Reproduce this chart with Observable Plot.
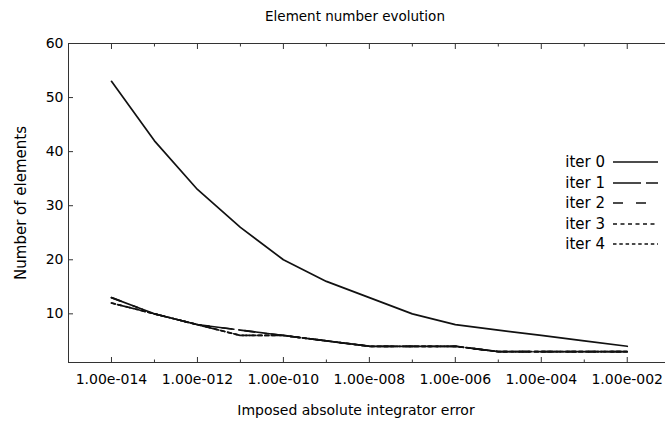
<!DOCTYPE html>
<html><head><meta charset="utf-8">
<script src="https://cdn.jsdelivr.net/npm/d3@7"></script>
<script src="https://cdn.jsdelivr.net/npm/@observablehq/plot@0.6"></script>
<style>
body{margin:0;background:#fff;font-family:"DejaVu Sans",sans-serif;color:#000}
#wrap{position:relative;width:665px;height:421px;overflow:hidden;background:#fff}
#chart{position:absolute;left:0;top:0}
.t{position:absolute;white-space:nowrap;color:#000;line-height:1}
#title{left:355px;top:10px;transform:translateX(-50%);font-size:13.5px}
#xlabel{left:356px;top:403px;transform:translateX(-50%);font-size:14px}
#ylabel{left:21px;top:203px;transform:translate(-50%,-50%) rotate(-90deg);font-size:15px}
#legend{position:absolute;top:152px;left:520px;width:140px;font-size:15px}
.row{display:flex;align-items:center;height:20.5px;justify-content:flex-end}
.row span{margin-right:8px}
.row svg{display:block}
</style></head><body>
<div id="wrap">
<div id="chart"></div>
<div class="t" id="title">Element number evolution</div>
<div class="t" id="xlabel">Imposed absolute integrator error</div>
<div class="t" id="ylabel">Number of elements</div>
<div id="legend"></div>
</div>
<script>
// ---- data ----
const errors = [1e-14,1e-13,1e-12,1e-11,1e-10,1e-9,1e-8,1e-7,1e-6,1e-5,1e-4,1e-3,1e-2];
const iter0 = [53,42,33,26,20,16,13,10,8,7,6,5,4];
const iter1 = [13,10,8,7,6,5,4,4,4,3,3,3,3];
const iter2 = [13,10,8,7,6,5,4,4,4,3,3,3,3];
const iter3 = [12,10,8,6,6,5,4,4,4,3,3,3,3];
const iter4 = [12,10,8,6,6,5,4,4,4,3,3,3,3];
const seriesNames = ["iter 0","iter 1","iter 2","iter 3","iter 4"];
const xMajorTicks = [1e-14,1e-12,1e-10,1e-8,1e-6,1e-4,1e-2];
const xMinorTicks = [1e-13,1e-11,1e-9,1e-7,1e-5,1e-3];
const yTicks = [10,20,30,40,50,60];

// ---- styles ----
const dashes = [null, "28,5", "10,13", "4,3.5", "3.5,2.8"];
const lineColor = "#111";

const allSeries = [iter0, iter1, iter2, iter3, iter4];
const rows = [];
allSeries.forEach((vals, s) => errors.forEach((e, i) => rows.push({series: seriesNames[s], err: e, n: vals[i]})));

const fmt = d => {
  const e = Math.round(Math.log10(d));
  return "1.00e" + (e < 0 ? "-" : "+") + String(Math.abs(e)).padStart(3, "0");
};

const axisColor = "#333";
const marks = [
  Plot.ruleY([60], {stroke: axisColor}),
  Plot.ruleY([1], {stroke: axisColor}),
  Plot.ruleX([1e-15], {stroke: axisColor}),
  Plot.axisX(xMajorTicks, {anchor: "bottom", tickSize: 0, tickPadding: 12, tickFormat: fmt, fontSize: 14, label: null}),
  Plot.axisX(xMajorTicks, {anchor: "bottom", tickSize: -5, tickFormat: () => "", label: null, stroke: axisColor}),
  Plot.axisX(xMinorTicks, {anchor: "bottom", tickSize: -2.5, tickFormat: () => "", label: null, stroke: axisColor}),
  Plot.axisX(xMajorTicks, {anchor: "top", tickSize: -5, tickFormat: () => "", label: null, stroke: axisColor}),
  Plot.axisX(xMinorTicks, {anchor: "top", tickSize: -2.5, tickFormat: () => "", label: null, stroke: axisColor}),
  Plot.axisY(yTicks, {anchor: "left", tickSize: 0, tickPadding: 5, fontSize: 14, label: null}),
  Plot.axisY(yTicks, {anchor: "left", tickSize: -5, tickFormat: () => "", label: null, stroke: axisColor}),
];
seriesNames.forEach((name, s) => {
  marks.push(Plot.line(rows.filter(r => r.series === name), {
    x: "err", y: "n", stroke: lineColor, strokeWidth: 1.7,
    strokeDasharray: dashes[s] || undefined
  }));
});

const chart = Plot.plot({
  width: 665, height: 421,
  marginLeft: 68, marginRight: 0, marginTop: 43, marginBottom: 59,
  style: {fontFamily: "DejaVu Sans, sans-serif", fontSize: "14px", color: "#000", background: "#fff"},
  x: {type: "log", domain: [1e-15, Math.pow(10, -1.11)]},
  y: {domain: [1, 60]},
  marks
});
document.getElementById("chart").appendChild(chart);

// legend
const leg = document.getElementById("legend");
seriesNames.forEach((name, s) => {
  const row = document.createElement("div");
  row.className = "row";
  const sp = document.createElement("span");
  sp.textContent = name;
  row.appendChild(sp);
  const svg = d3.create("svg").attr("width", 47).attr("height", 10);
  svg.append("line").attr("x1", 0).attr("x2", 45).attr("y1", 5).attr("y2", 5)
    .attr("stroke", lineColor).attr("stroke-width", 1.7)
    .attr("stroke-dasharray", dashes[s]);
  row.appendChild(svg.node());
  leg.appendChild(row);
});
</script>
</body></html>
